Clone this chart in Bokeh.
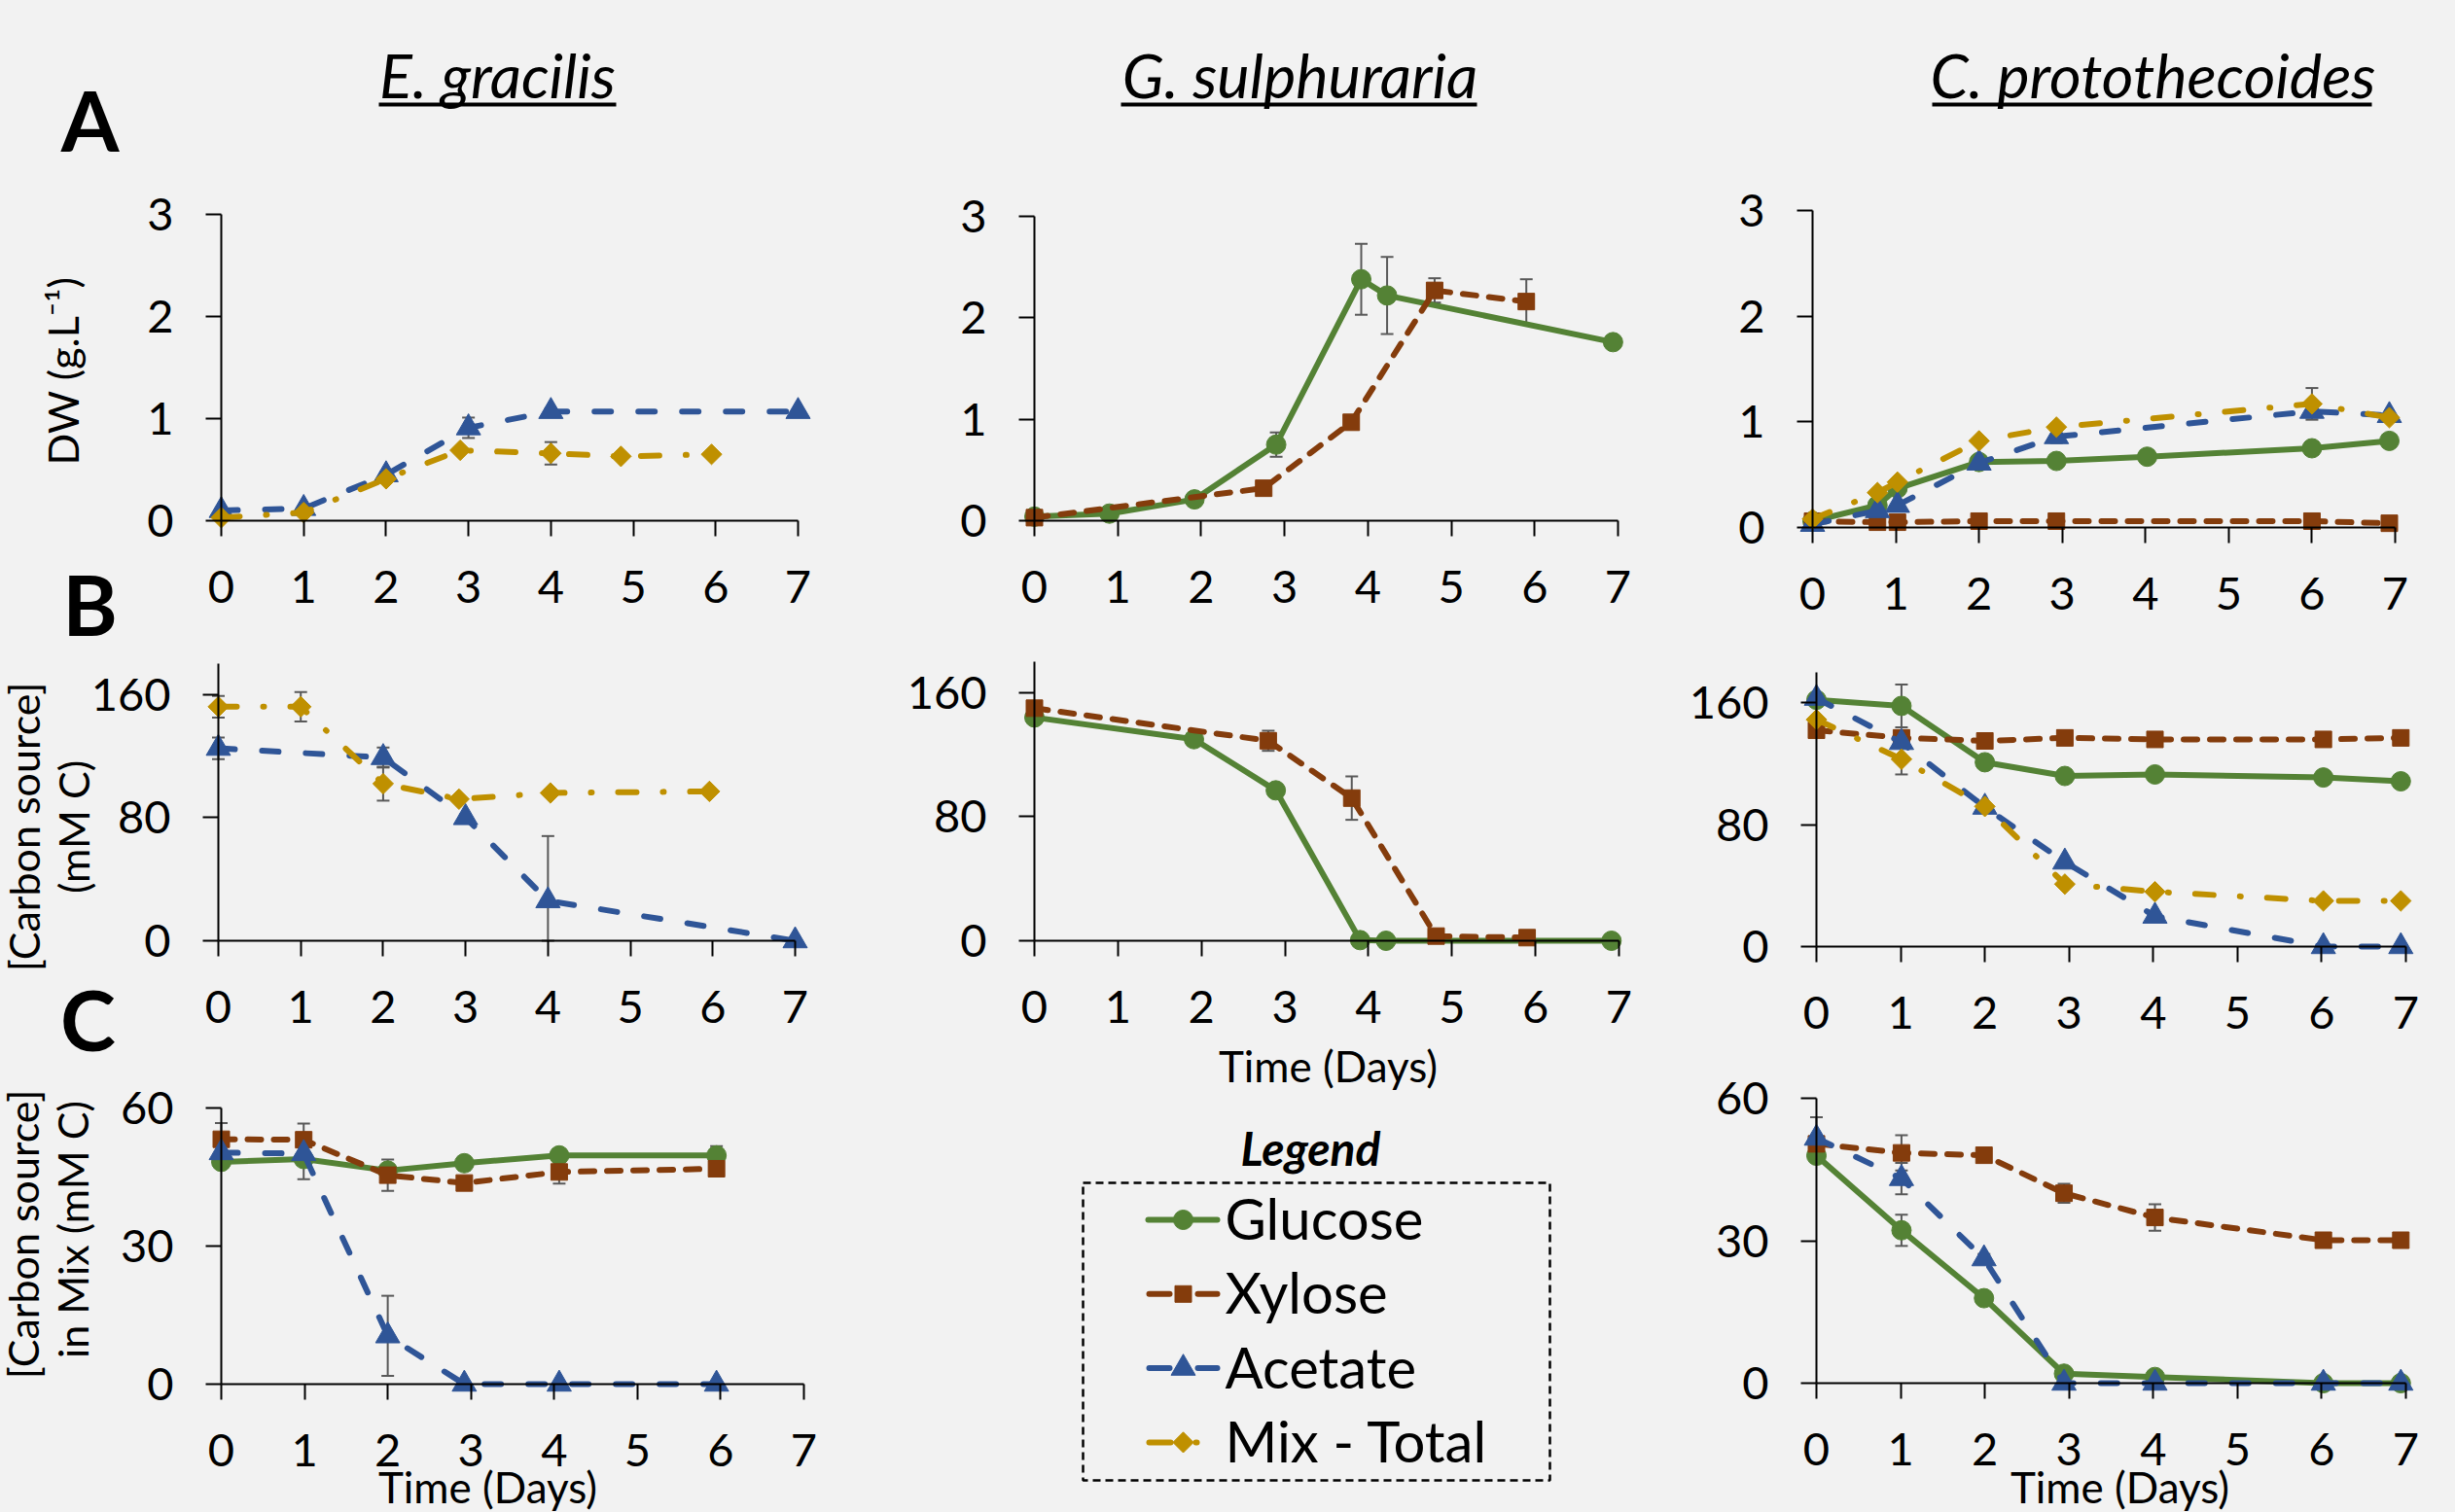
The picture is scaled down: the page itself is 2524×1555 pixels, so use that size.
from math import pi
from bokeh.plotting import figure
from bokeh.models import Range1d, FixedTicker, Label, Whisker, TeeHead, ColumnDataSource
from bokeh.layouts import row, column
from bokeh.embed import file_html
from bokeh.resources import INLINE

# ---------------- data ----------------
species = ["E. gracilis", "G. sulphuraria", "C. protothecoides"]
series_names = ["Glucose", "Xylose", "Acetate", "Mix - Total"]
x_ticks = [0, 1, 2, 3, 4, 5, 6, 7]
dw_ticks = [0, 1, 2, 3]
carbon_ticks = [0, 80, 160]
mix_ticks = [0, 30, 60]

# A: dry weight (g/L)
a1_acetate_days = [0, 1, 2, 3, 4, 7]
a1_acetate = [0.10, 0.12, 0.45, 0.91, 1.07, 1.07]
a1_acetate_err = [0, 0, 0.03, 0.10, 0.03, 0]
a1_mix_days = [0, 1, 2, 2.9, 4, 4.85, 5.95]
a1_mix = [0.03, 0.08, 0.41, 0.69, 0.66, 0.63, 0.65]
a1_mix_err = [0, 0, 0.03, 0.02, 0.11, 0, 0]

a2_glucose_days = [0, 0.9, 1.92, 2.9, 3.92, 4.23, 6.94]
a2_glucose = [0.04, 0.07, 0.21, 0.75, 2.38, 2.22, 1.76]
a2_glucose_err = [0, 0, 0, 0.12, 0.35, 0.38, 0]
a2_xylose_days = [0, 2.75, 3.8, 4.8, 5.9]
a2_xylose = [0.03, 0.32, 0.97, 2.27, 2.16]
a2_xylose_err = [0, 0, 0, 0.12, 0.22]

a3_days = [0, 0.78, 1.02, 2, 2.93, 4.02, 6.0, 6.93]
a3_glucose = [0.06, 0.21, 0.37, 0.62, 0.63, 0.67, 0.75, 0.82]
a3_days_b = [0, 0.78, 1.02, 2, 2.93, 6.0, 6.93]
a3_xylose = [0.06, 0.05, 0.05, 0.06, 0.06, 0.06, 0.04]
a3_acetate = [0.03, 0.16, 0.21, 0.61, 0.86, 1.10, 1.06]
a3_acetate_err = [0, 0, 0, 0, 0.06, 0.06, 0]
a3_mix = [0.08, 0.33, 0.43, 0.82, 0.95, 1.17, 1.04]
a3_mix_err = [0, 0, 0, 0, 0, 0.15, 0]

# B: carbon source (mM C)
b1_acetate_days = [0, 2, 3, 4, 7]
b1_acetate = [125, 119, 80, 26, 0]
b1_acetate_err = [7, 6.5, 0, 42, 0]
b1_mix_days = [0, 1, 2, 2.92, 4.03, 5.96]
b1_mix = [152, 152, 102, 92, 96, 97]
b1_mix_err = [7, 9.5, 11, 0, 0, 0]

b2_glucose_days = [0, 1.91, 2.89, 3.9, 4.21, 6.91]
b2_glucose = [144, 130, 97, 0.4, 0, 0]
b2_xylose_days = [0, 2.8, 3.8, 4.81, 5.9]
b2_xylose = [150, 129, 92, 3, 2]
b2_xylose_err = [0, 6.5, 14, 0, 0]

b3_days = [0, 1.01, 2, 2.95, 4.02, 6.02, 6.94]
b3_glucose = [162, 158, 121, 112, 113, 111, 108.5]
b3_glucose_err = [0, 14, 0, 0, 0, 0, 0]
b3_xylose = [142, 137, 135, 137, 136, 136, 137]
b3_acetate = [163, 134, 91.5, 55.5, 20, 0, 0]
b3_mix = [149, 123, 92, 41, 36, 30, 30]
b3_mix_err = [0, 10, 0, 0, 0, 0, 0]

# C: carbon source in Mix (mM C)
c1_days = [0, 0.99, 2, 2.92, 4.06, 5.95]
c1_glucose = [48.3, 48.9, 46.4, 48.0, 49.7, 49.7]
c1_glucose_err = [0, 4.4, 0, 1.5, 0, 2]
c1_xylose = [53.2, 53.1, 45.4, 43.7, 46.1, 46.8]
c1_xylose_err = [3.5, 3.5, 3.4, 0, 2.5, 0]
c1_acetate = [50.3, 50.1, 10.5, 0, 0, 0]
c1_acetate_err = [0, 0, 8.7, 0, 0, 0]

c3_days = [0, 1.01, 1.99, 2.94, 4.02, 6.02, 6.94]
c3_glucose = [47.9, 32.2, 17.9, 2.0, 1.3, 0, 0]
c3_glucose_err = [0, 3.3, 0, 0, 0, 0, 0]
c3_xylose = [50.4, 48.5, 48.0, 40.0, 34.9, 30.1, 30.1]
c3_xylose_err = [0, 3.7, 0, 2, 2.8, 0, 0]
c3_acetate = [51.6, 43.1, 26.2, 0, 0, 0, 0]
c3_acetate_err = [4.4, 3.3, 1, 0, 0, 0, 0]

# ---------------- style ----------------
BG = "#f2f2f2"
FONT = "Lato"
ERR = "#595959"
STYLE = {
    "Glucose": dict(color="#548235", dash="solid", marker="circle", size=20, angle=0.0),
    "Xylose": dict(color="#843c0c", dash="14 13", marker="square", size=17, angle=0.0),
    "Acetate": dict(color="#2f5597", dash="17 28", marker="triangle", size=25, angle=0.0),
    "Mix - Total": dict(color="#bf9000", dash="19 27 1 27", marker="square", size=15, angle=pi / 4),
}


def base_fig(box, x0, ppx, y0, ppy):
    """Figure whose frame fills the whole box; page px = x0 + x*ppx, page py = y0 - y*ppy."""
    L, T, R, B = box
    p = figure(width=R - L, height=B - T, output_backend="svg", toolbar_location=None, title=None,
               x_range=Range1d((L - x0) / ppx, (R - x0) / ppx),
               y_range=Range1d((y0 - B) / ppy, (y0 - T) / ppy),
               min_border_left=0, min_border_right=0, min_border_top=0, min_border_bottom=0,
               background_fill_color=BG, border_fill_color=BG, outline_line_color=None)
    return p, (x0, y0, ppx, ppy)


def panel(box, x0, x7, y0, ytop, ymax, yticks):
    ppx = (x7 - x0) / 7.0
    ppy = (y0 - ytop) / float(ymax)
    p, g = base_fig(box, x0, ppx, y0, ppy)
    p.grid.visible = False
    for ax in (p.xaxis[0], p.yaxis[0]):
        ax.fixed_location = 0
        ax.axis_line_color = "black"
        ax.axis_line_width = 2
        ax.major_tick_line_color = "black"
        ax.major_tick_line_width = 2
        ax.major_tick_out = 16
        ax.major_tick_in = 0
        ax.minor_tick_out = 0
        ax.minor_tick_in = 0
        ax.major_label_text_font = FONT
        ax.major_label_text_font_size = "47px"
        ax.major_label_text_color = "black"
    p.xaxis.ticker = FixedTicker(ticks=x_ticks)
    p.xaxis.bounds = (0, 7)
    p.yaxis.ticker = FixedTicker(ticks=yticks)
    p.yaxis.bounds = (0, ymax)
    p.xaxis.major_label_standoff = 35
    p.yaxis.major_label_standoff = 33
    return p, g


def dpt(g, px, py):
    x0, y0, ppx, ppy = g
    return (px - x0) / ppx, (y0 - py) / ppy


def note(p, g, px, py, text, size, style="normal", angle=0.0, align="center", baseline="middle"):
    x, y = dpt(g, px, py)
    p.add_layout(Label(x=x, y=y, text=text, angle=angle,
                       text_font=FONT, text_font_size=f"{size}px", text_font_style=style,
                       text_align=align, text_baseline=baseline, text_color="black"))


def title_ul(p, g, cx, text, ul0, ul1):
    note(p, g, cx, 76, text, 63, style="italic")
    xa, ya = dpt(g, ul0, 107)
    xb, yb = dpt(g, ul1, 107)
    p.segment(x0=[xa], y0=[ya], x1=[xb], y1=[yb], line_color="black", line_width=4)


def series(p, name, days, vals, errs=None):
    st = STYLE[name]
    if errs:
        idx = [i for i, e in enumerate(errs) if e > 0]
        src = ColumnDataSource(dict(base=[days[i] for i in idx],
                                    upper=[vals[i] + errs[i] for i in idx],
                                    lower=[max(0, vals[i] - errs[i]) for i in idx]))
        p.add_layout(Whisker(source=src, base="base", upper="upper", lower="lower", dimension="height",
                             line_color=ERR, line_width=2,
                             upper_head=TeeHead(size=13, line_color=ERR, line_width=2),
                             lower_head=TeeHead(size=13, line_color=ERR, line_width=2)))
    p.line(days, vals, line_color=st["color"], line_width=6, line_dash=st["dash"],
           line_cap="round", line_join="round")
    p.scatter(days, vals, marker=st["marker"], size=st["size"], angle=st["angle"],
              fill_color=st["color"], line_color=st["color"])


# ---------------- column 1 : E. gracilis ----------------
A1, gA1 = panel((0, 0, 900, 665), 227, 820, 535, 220, 3, dw_ticks)
series(A1, "Acetate", a1_acetate_days, a1_acetate, a1_acetate_err)
series(A1, "Mix - Total", a1_mix_days, a1_mix, a1_mix_err)
title_ul(A1, gA1, 511, species[0], 389, 633)
note(A1, gA1, 92, 122, "A", 86, style="bold")
note(A1, gA1, 64, 381, "DW (g.L⁻¹)", 43, angle=pi / 2)
note(A1, gA1, 92, 620, "B", 86, style="bold")

B1, gB1 = panel((0, 665, 900, 1105), 224, 817, 967, 682, 180, carbon_ticks)
series(B1, "Acetate", b1_acetate_days, b1_acetate, b1_acetate_err)
series(B1, "Mix - Total", b1_mix_days, b1_mix, b1_mix_err)
note(B1, gB1, 24, 850, "[Carbon source]", 43, angle=pi / 2)
note(B1, gB1, 75, 850, "(mM C)", 43, angle=pi / 2)
note(B1, gB1, 90, 1047, "C", 86, style="bold")

C1, gC1 = panel((0, 1105, 900, 1555), 227, 826, 1423, 1139, 60, mix_ticks)
series(C1, "Glucose", c1_days, c1_glucose, c1_glucose_err)
series(C1, "Xylose", c1_days, c1_xylose, c1_xylose_err)
series(C1, "Acetate", c1_days, c1_acetate, c1_acetate_err)
note(C1, gC1, 23, 1269, "[Carbon source]", 43, angle=pi / 2)
note(C1, gC1, 74, 1264, "in Mix (mM C)", 43, angle=pi / 2)
note(C1, gC1, 501, 1528, "Time (Days)", 44)

# ---------------- column 2 : G. sulphuraria ----------------
A2, gA2 = panel((900, 0, 1710, 665), 1063, 1663, 535, 222, 3, dw_ticks)
series(A2, "Glucose", a2_glucose_days, a2_glucose, a2_glucose_err)
series(A2, "Xylose", a2_xylose_days, a2_xylose, a2_xylose_err)
title_ul(A2, gA2, 1336, species[1], 1152, 1518)

B2, gB2 = panel((900, 665, 1710, 1130), 1063, 1664, 967, 680, 180, carbon_ticks)
series(B2, "Glucose", b2_glucose_days, b2_glucose)
series(B2, "Xylose", b2_xylose_days, b2_xylose, b2_xylose_err)
note(B2, gB2, 1365, 1095, "Time (Days)", 44)

# legend key (page-pixel coordinates)
LG, gL = base_fig((900, 1130, 1710, 1555), 0, 1, 1555, 1)
LG.xaxis.visible = False
LG.yaxis.visible = False
LG.grid.visible = False
note(LG, gL, 1347, 1180, "Legend", 48, style="bold italic")
bx0, by0 = dpt(gL, 1113, 1216)
bx1, by1 = dpt(gL, 1593, 1522)
LG.quad(left=[bx0], right=[bx1], top=[by0], bottom=[by1], fill_alpha=0,
        line_color="black", line_width=2.5, line_dash="8 5")
key_y0, key_dy = 1252, 76.3
for i, name in enumerate(series_names):
    st = STYLE[name]
    yy = key_y0 + i * key_dy
    if name == "Glucose":
        segs = [(1180, 1251)]
    elif name == "Mix - Total":
        segs = [(1181, 1203), (1229, 1230)]
    else:
        segs = [(1181, 1202), (1231, 1251)]
    for a, b in segs:
        xa, ya = dpt(gL, a, yy + 2)
        xb, yb = dpt(gL, b, yy + 2)
        LG.segment(x0=[xa], y0=[ya], x1=[xb], y1=[yb], line_color=st["color"], line_width=6, line_cap="round")
    xm, ym = dpt(gL, 1216, yy + 2)
    LG.scatter(x=[xm], y=[ym], marker=st["marker"], size=st["size"], angle=st["angle"],
               fill_color=st["color"], line_color=st["color"])
    note(LG, gL, 1259, yy, name, 58, align="left")

# ---------------- column 3 : C. protothecoides ----------------
A3, gA3 = panel((1710, 0, 2524, 665), 1863, 2462, 542, 216, 3, dw_ticks)
series(A3, "Glucose", a3_days, a3_glucose)
series(A3, "Xylose", a3_days_b, a3_xylose)
series(A3, "Acetate", a3_days_b, a3_acetate, a3_acetate_err)
series(A3, "Mix - Total", a3_days_b, a3_mix, a3_mix_err)
title_ul(A3, gA3, 2213, species[2], 1986, 2438)

B3, gB3 = panel((1710, 665, 2524, 1105), 1867, 2473, 973, 691, 180, carbon_ticks)
series(B3, "Glucose", b3_days, b3_glucose, b3_glucose_err)
series(B3, "Xylose", b3_days, b3_xylose)
series(B3, "Acetate", b3_days, b3_acetate)
series(B3, "Mix - Total", b3_days, b3_mix, b3_mix_err)

C3, gC3 = panel((1710, 1105, 2524, 1555), 1867, 2473, 1422, 1129, 60, mix_ticks)
series(C3, "Glucose", c3_days, c3_glucose, c3_glucose_err)
series(C3, "Xylose", c3_days, c3_xylose, c3_xylose_err)
series(C3, "Acetate", c3_days, c3_acetate, c3_acetate_err)
note(C3, gC3, 2179, 1528, "Time (Days)", 44)

bgs = {"background-color": BG}
layout = row(column(A1, B1, C1, styles=bgs), column(A2, B2, LG, styles=bgs),
             column(A3, B3, C3, styles=bgs), styles=bgs)
p = layout
open("out.html", "w").write(file_html(p, INLINE))
